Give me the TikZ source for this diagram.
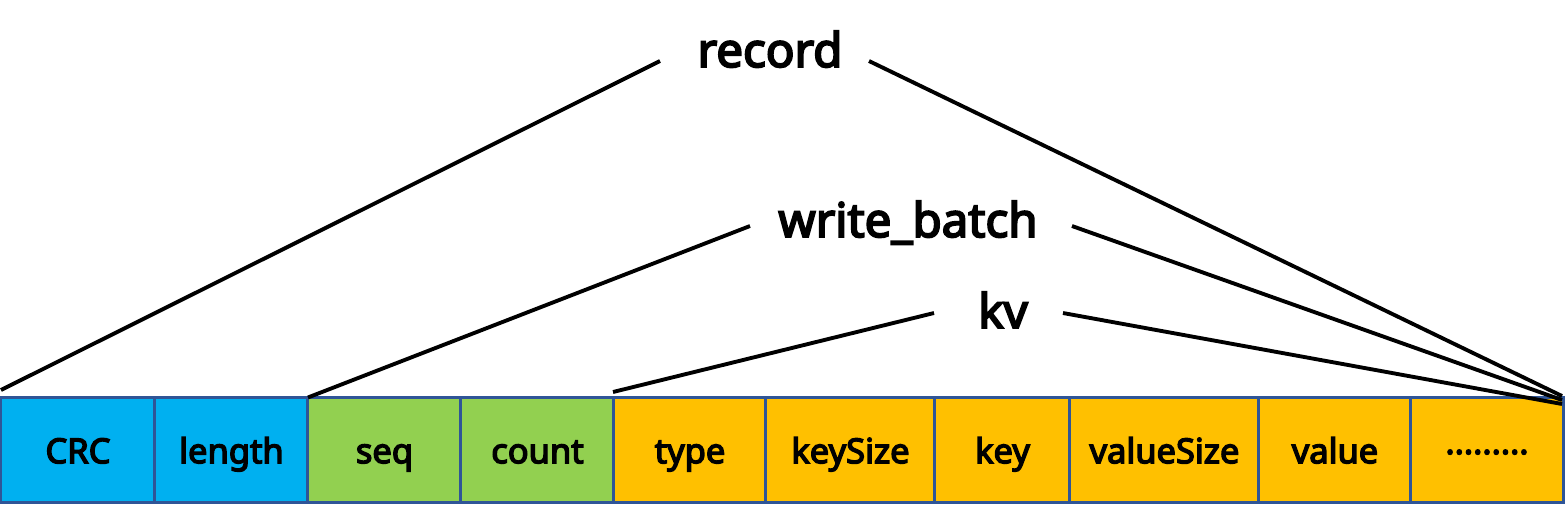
\documentclass[tikz,border=0pt]{standalone}
\usepackage{fontspec}
\setmainfont{Noto Sans}[AutoFakeBold=4]
\definecolor{cellblue}{HTML}{00B0F0}
\definecolor{cellgreen}{HTML}{92D050}
\definecolor{cellorange}{HTML}{FFC000}
\definecolor{cellborder}{HTML}{2F5597}
\tikzset{
	cell/.style={draw=cellborder, line width=0.85pt, minimum height=1.05cm, inner sep=0pt, outer sep=0pt, text height=0.9em, text depth=0.15em, font=\fontsize{9.8}{12}\selectfont\bfseries},
	tag/.style={anchor=base, inner sep=0pt, font=\fontsize{13.5}{16}\selectfont\bfseries},
	link/.style={line width=1.1pt}
}
\begin{document}
\begin{tikzpicture}[x=0.01cm, y=-0.01cm]
	\useasboundingbox (0,0) rectangle (1566,505);
	% the fields
	\node[cell, fill=cellblue, minimum width=1.54cm] (crc) at (78,450) {CRC};
	\node[cell, fill=cellblue, minimum width=1.53cm] (length) at (231.5,450) {length};
	\node[cell, fill=cellgreen, minimum width=1.53cm] (seq) at (384.5,450) {seq};
	\node[cell, fill=cellgreen, minimum width=1.53cm] (count) at (537.5,450) {count};
	\node[cell, fill=cellorange, minimum width=1.52cm] (type) at (690,450) {type};
	\node[cell, fill=cellorange, minimum width=1.69cm] (keysize) at (850.5,450) {keySize};
	\node[cell, fill=cellorange, minimum width=1.35cm] (key) at (1002.5,450) {key};
	\node[cell, fill=cellorange, minimum width=1.89cm] (valuesize) at (1164.5,450) {valueSize};
	\node[cell, fill=cellorange, minimum width=1.52cm] (value) at (1335,450) {value};
	\node[cell, fill=cellorange, minimum width=1.52cm] (more) at (1487,450) {\raisebox{0.5ex}{.........}};
	% the labels
	\node[tag] (record) at (770,67) {record};
	\node[tag] (batch) at (908,237) {write\_batch};
	\node[tag] (kv) at (1003,328) {kv};
	\coordinate (recordL) at (660,61);
	\coordinate (recordR) at (869,61);
	\coordinate (batchL) at (750,226);
	\coordinate (batchR) at (1072,226);
	\coordinate (kvL) at (934,313);
	\coordinate (kvR) at (1063,313);
	\coordinate (recordEnd) at (1562,396);
	\coordinate (batchEnd) at (1562,400);
	\coordinate (kvEnd) at (1562,404);
	\coordinate (recordStart) at (1,390);
	\coordinate (kvStart) at (613,392);
	\draw[link] (recordL) -- (recordStart);
	\draw[link] (recordR) -- (recordEnd);
	\draw[link] (batchL) -- (seq.north west);
	\draw[link] (batchR) -- (batchEnd);
	\draw[link] (kvL) -- (kvStart);
	\draw[link] (kvR) -- (kvEnd);
\end{tikzpicture}
\end{document}
